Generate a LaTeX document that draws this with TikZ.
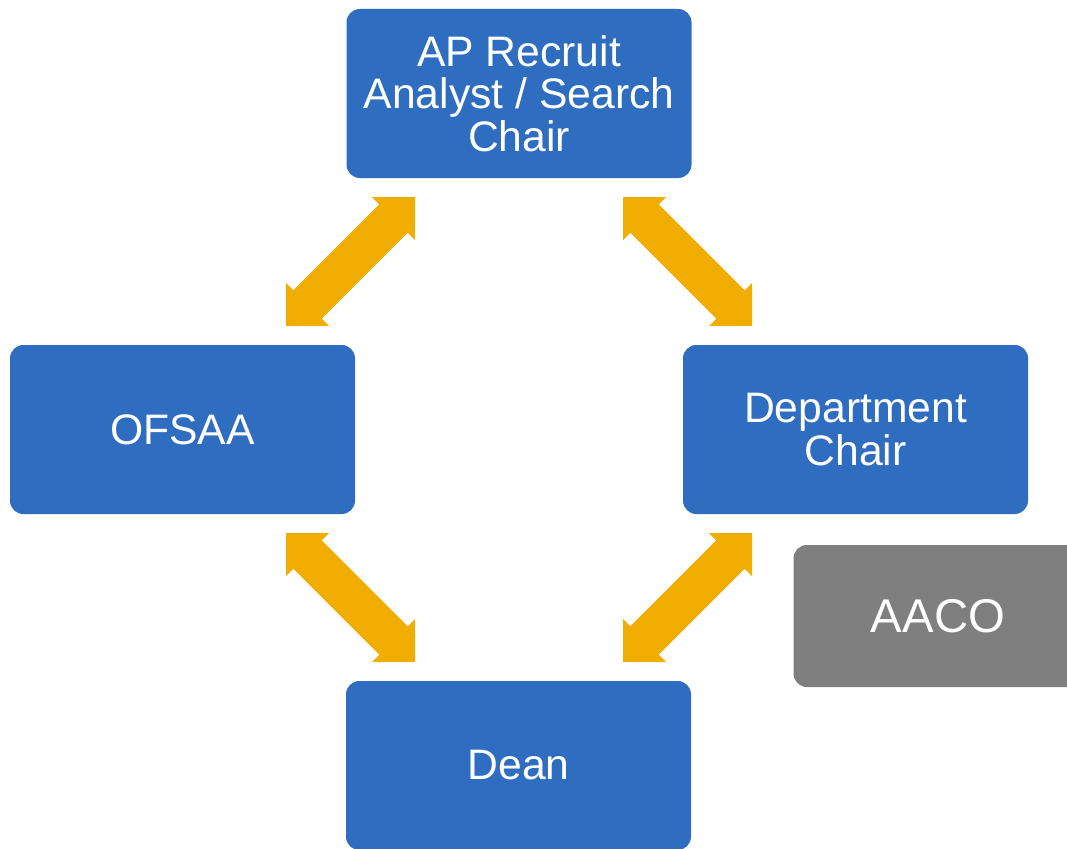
\documentclass[tikz,border=0pt]{standalone}
\usepackage{fontspec}
\setmainfont{Liberation Sans}
\usetikzlibrary{calc}
\definecolor{boxblue}{RGB}{47,109,193}
\definecolor{arrowgold}{RGB}{242,174,0}
\definecolor{boxgray}{RGB}{127,127,127}
\tikzset{
  mainbox/.style={rectangle, rounded corners=10pt, fill=boxblue, text=white,
    minimum width=258.75pt, minimum height=126.75pt, align=center,
    font=\fontsize{32}{32}\selectfont, inner sep=0pt},
  graybox/.style={mainbox, fill=boxgray, minimum width=216.75pt, minimum height=106.5pt,
    font=\fontsize{35.5}{35.5}\selectfont},
  arrowfill/.style={fill=arrowgold}
}
\newcommand\dblarr[2]{%
  \fill[arrowfill] (#1)
    -- ($(#1)!0.1667!(#2)!22.8pt!90:(#2)$)
    -- ($(#1)!0.1667!(#2)!15pt!90:(#2)$)
    -- ($(#2)!0.1667!(#1)!15pt!-90:(#1)$)
    -- ($(#2)!0.1667!(#1)!22.8pt!-90:(#1)$)
    -- (#2)
    -- ($(#2)!0.1667!(#1)!22.8pt!90:(#1)$)
    -- ($(#2)!0.1667!(#1)!15pt!90:(#1)$)
    -- ($(#1)!0.1667!(#2)!15pt!-90:(#2)$)
    -- ($(#1)!0.1667!(#2)!22.8pt!-90:(#2)$)
    -- cycle;}
\begin{document}
\begin{tikzpicture}[x=0.75pt, y=-0.75pt]
\clip (0,0) rectangle (1067,849);
\fill[white] (0,0) rectangle (1067,849);
\node[mainbox] (ap) at (519,93.5) {AP Recruit\\Analyst / Search\\Chair};
\node[mainbox] (ofsaa) at (182.5,429.5) {OFSAA};
\node[mainbox] (dept) at (855.5,429.5) {Department\\Chair};
\node[mainbox] (dean) at (518.5,765.5) {Dean};
\node[graybox] (aaco) at (938,616) {AACO};
% arrow end points
\coordinate (a1s) at (415,197);
\coordinate (a1e) at (286,326);
\coordinate (a2s) at (623,197);
\coordinate (a2e) at (752,326);
\coordinate (a3s) at (286,533);
\coordinate (a3e) at (415,662);
\coordinate (a4s) at (752,533);
\coordinate (a4e) at (623,662);
\dblarr{a1s}{a1e}
\dblarr{a2s}{a2e}
\dblarr{a3s}{a3e}
\dblarr{a4s}{a4e}
\end{tikzpicture}
\end{document}
